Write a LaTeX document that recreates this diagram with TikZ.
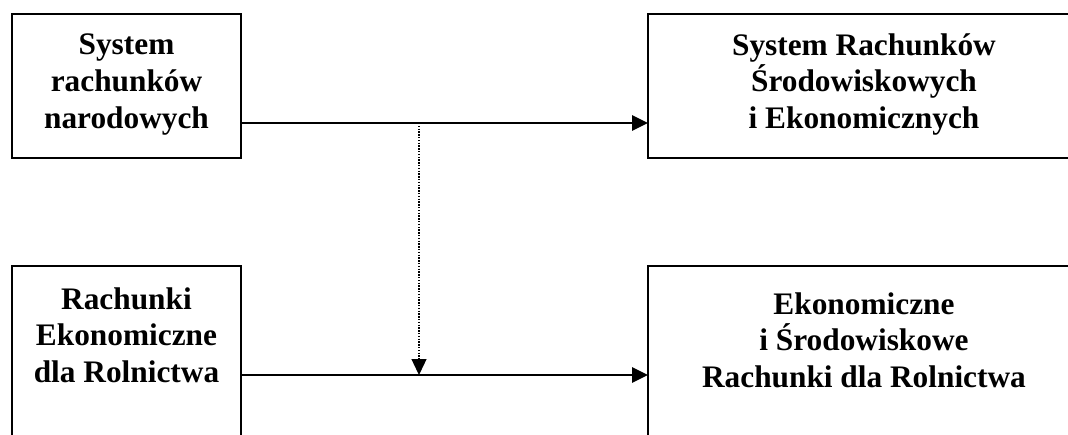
\documentclass[tikz,border=0pt]{standalone}
\usepackage{fontspec}
\setmainfont{Liberation Serif}
\usetikzlibrary{arrows.meta}
\begin{document}
\begin{tikzpicture}[x=0.75pt,y=-0.75pt,
  boxshape/.style={draw, line width=1.5pt, inner sep=0pt, outer sep=0pt, anchor=north west},
  lbl/.style={font=\bfseries\fontsize{23.5}{27.6}\selectfont, align=center, inner sep=0pt, anchor=north},
  conn/.style={line width=1.5pt, -{Triangle[length=12pt,width=11.5pt]}},
  dotconn/.style={line width=1.1pt, densely dotted, -{Triangle[length=12pt,width=11.5pt,line width=0pt]}}]
\useasboundingbox (0,0) rectangle (1068,435);
\clip (0,0) rectangle (1068,435);
\node[boxshape, minimum width=171.75pt, minimum height=108pt] (tl) at (12,14) {};
\node[boxshape, minimum width=324pt, minimum height=108pt] (tr) at (648,14) {};
\node[boxshape, minimum width=171.75pt, minimum height=138pt] (bl) at (12,266) {};
\node[boxshape, minimum width=324pt, minimum height=138pt] (br) at (648,266) {};
\node[lbl] (t1) at (126.5,33.6) {System\\rachunków\\narodowych};
\node[lbl] (t2) at (864,33) {System Rachunków\\Środowiskowych\\i Ekonomicznych};
\node[lbl] (t3) at (126.5,287) {Rachunki\\Ekonomiczne\\dla Rolnictwa};
\node[lbl] (t4) at (864,292) {Ekonomiczne\\i Środowiskowe\\Rachunki dla Rolnictwa};
\coordinate (a1) at (0,123);
\coordinate (a2) at (0,375);
\coordinate (d1) at (419,123);
\draw[conn] (tl.east |- a1) -- (tr.west |- a1);
\draw[conn] (bl.east |- a2) -- (br.west |- a2);
\draw[dotconn] (d1) -- (d1 |- a2);
\end{tikzpicture}
\end{document}
